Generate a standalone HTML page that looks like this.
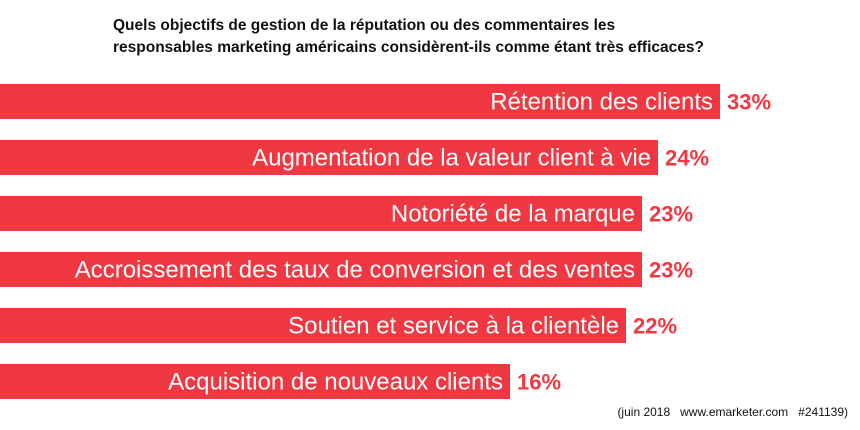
<!DOCTYPE html>
<html><head><meta charset="utf-8"><style>
body{margin:0;background:#fff;width:860px;height:430px;overflow:hidden}
svg{display:block}
</style></head><body>
<svg id="chart" width="860" height="430" viewBox="0 0 860 430" font-family="'Liberation Sans', sans-serif">
<text x="113" y="30" font-size="15.5" font-weight="bold" fill="#111">Quels objectifs de gestion de la réputation ou des commentaires les</text>
<text x="113" y="52" font-size="15.5" font-weight="bold" fill="#111">responsables marketing américains considèrent-ils comme étant très efficaces?</text>
<g id="bars"></g>
<text x="848" y="416" font-size="12" text-anchor="end" fill="#111" xml:space="preserve">(juin 2018   www.emarketer.com   #241139)</text>
</svg>
<script>
const categories = ["Rétention des clients","Augmentation de la valeur client à vie","Notoriété de la marque","Accroissement des taux de conversion et des ventes","Soutien et service à la clientèle","Acquisition de nouveaux clients"];
const values = [33,24,23,23,22,16];
const valueLabels = ["33%","24%","23%","23%","22%","16%"];
const NS="http://www.w3.org/2000/svg";
const g=document.getElementById('bars');
const dom=[16,22,24,33], rng=[510,626,658,720];
function x(v){
  if(v<=dom[0]) return rng[0]*v/dom[0];
  for(let k=0;k<dom.length-1;k++){
    if(v<=dom[k+1]) return rng[k]+(v-dom[k])*(rng[k+1]-rng[k])/(dom[k+1]-dom[k]);
  }
  const n=dom.length-1;
  return rng[n]+(v-dom[n])*(rng[n]-rng[n-1])/(dom[n]-dom[n-1]);
}
const y=i=>84+i*56;
const barH=35;
categories.forEach((c,i)=>{
  const w=x(values[i]);
  const rect=document.createElementNS(NS,'rect');
  
  
  rect.setAttribute('x',0);rect.setAttribute('y',y(i));
  rect.setAttribute('width',w);rect.setAttribute('height',barH);
  rect.setAttribute('fill','#ef3842');
  g.appendChild(rect);
  const lab=document.createElementNS(NS,'text');
  
  
  lab.textContent=c;
  lab.setAttribute('font-size','24');
  lab.setAttribute('fill','#fff');
  lab.setAttribute('text-anchor','end');
  lab.setAttribute('x',w-7);
  lab.setAttribute('y',y(i)+barH/2+8);
  g.appendChild(lab);
  const val=document.createElementNS(NS,'text');
  
  
  val.textContent=valueLabels[i];
  val.setAttribute('x',w+7);
  val.setAttribute('y',y(i)+barH/2+8);
  val.setAttribute('font-size','22');
  val.setAttribute('font-weight','bold');
  val.setAttribute('fill','#ef3842');
  g.appendChild(val);
});
</script>
</body></html>
